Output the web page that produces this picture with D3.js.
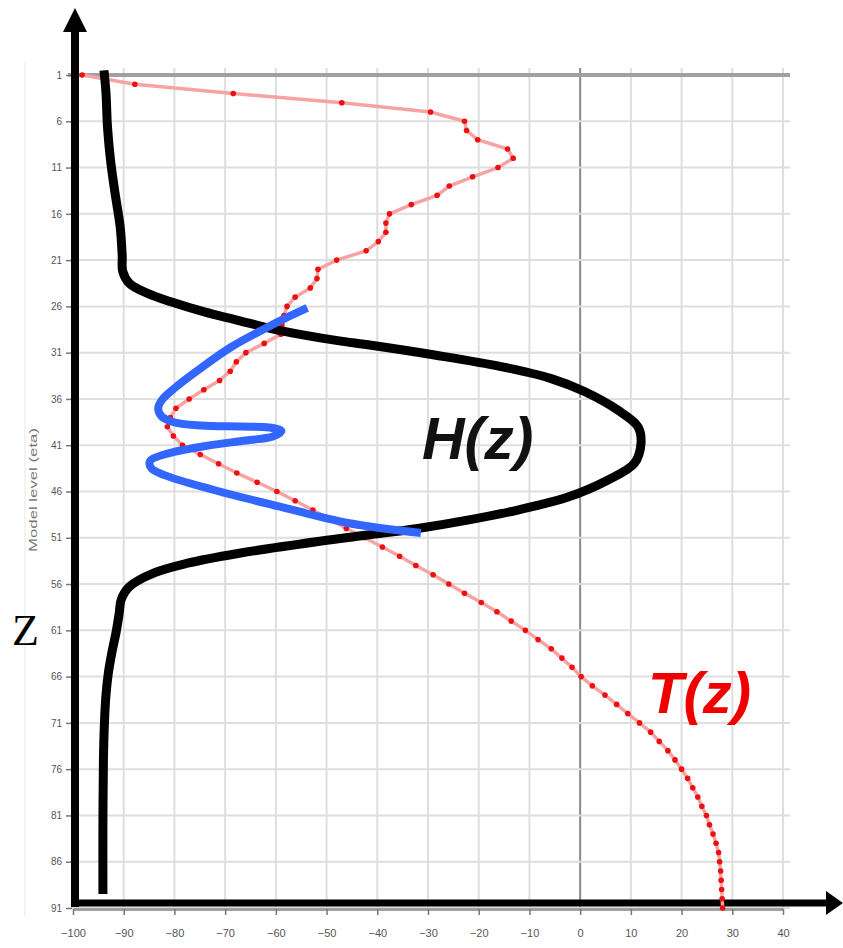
<!DOCTYPE html>
<html>
<head>
<meta charset="utf-8">
<script src="https://cdn.jsdelivr.net/npm/d3@7"></script>
<style>
  html, body { margin: 0; padding: 0; background: #ffffff; }
  svg { display: block; }
</style>
</head>
<body>
<script>
// ---------------- data ----------------
const xTicks = [-100, -90, -80, -70, -60, -50, -40, -30, -20, -10, 0, 10, 20, 30, 40];
const levelTicks = [1, 6, 11, 16, 21, 26, 31, 36, 41, 46, 51, 56, 61, 66, 71, 76, 81, 86, 91];

// T(z): temperature at each model level 1..91
const tLevels = d3.range(1, 92);
const tValues = [
  -98.2, -87.8, -68.4, -47.0, -29.5, -22.8, -22.4, -20.2, -14.3, -13.2,
  -16.2, -21.2, -25.8, -28.2, -33.3, -37.6, -38.3, -38.3, -39.8, -42.2,
  -48.0, -51.7, -51.9, -53.2, -56.2, -57.8, -58.4, -58.8, -59.0, -62.3,
  -65.9, -67.8, -69.0, -71.1, -74.2, -77.1, -79.7, -80.8, -81.4, -80.2,
  -78.4, -74.9, -71.3, -67.7, -63.7, -59.8, -56.2, -52.7, -49.3, -46.1,
  -42.5, -39.0, -35.6, -32.4, -29.0, -25.9, -22.8, -19.5, -16.4, -13.6,
  -10.8, -8.3, -5.7, -3.6, -1.6, 0.2, 2.4, 4.9, 7.2, 9.4,
  11.7, 13.9, 15.6, 17.3, 18.7, 20.0, 21.2, 22.2, 23.2, 24.0,
  24.9, 25.5, 26.2, 26.8, 27.3, 27.5, 27.7, 27.8, 27.9, 28.0, 28.1
];

// H(z): black profile
const hLevels = [0.5, 2.9, 6.6, 10.2, 13.8, 17.4, 20.5, 22.2, 23.5, 24.6, 25.5, 26.6, 27.5, 28.4, 29.1, 29.7, 30.2, 31.25, 32.5, 33.8, 35.2, 37.2, 39.0, 40.8, 42.95, 44.75, 46.6, 48.0, 49.1, 50.0, 50.7, 51.4, 52.7, 53.75, 54.8, 56.3, 57.7, 59.2, 61.2, 63.3, 65.5, 68.0, 71.0, 75.0, 82.0, 89.5];
const hValues = [-93.9, -93.5, -93.2, -92.6, -91.7, -90.7, -90.3, -90.2, -88.9, -85.3, -80.7, -74.1, -67.5, -60.9, -54.4, -47.8, -41.2, -28.7, -15.6, -5.7, 0.85, 7.4, 11.4, 12.0, 10.7, 5.5, -2.4, -12.3, -22.2, -32.0, -41.9, -51.7, -67.5, -77.4, -84.0, -88.9, -90.5, -90.9, -91.5, -92.3, -93.0, -93.5, -93.8, -94.0, -94.1, -94.1];

// blue zigzag
const bLevels = [26.17, 27.25, 28.44, 30.39, 32.87, 34.71, 36.0, 36.98, 37.84, 38.49, 38.87, 38.98, 39.08, 39.46, 40.06, 40.49, 41.08, 41.95, 42.70, 43.46, 44.2, 45.84, 47.67, 49.4, 50.48];
const bValues = [-53.8, -58.0, -62.3, -68.8, -75.3, -79.7, -82.3, -83.2, -82.6, -80.3, -74.8, -66.9, -61.3, -58.9, -60.6, -65.9, -73.8, -81.7, -84.8, -84.6, -82.1, -72.2, -59.0, -45.8, -31.4];

const tLabel = "T(z)";
const hLabel = "H(z)";
const zLabel = "Z";
const yTitle = "Model level (eta)";
const panelLabel = "(b)";

// ---------------- drawing ----------------
const W = 843, H = 948;
const svg = d3.select("body").append("svg").attr("width", W).attr("height", H);

const x = d3.scaleLinear().domain([-100, 40]).range([73, 783]);
const y = d3.scaleLinear().domain([1, 91]).range([75, 908]);

// faint outer border of original chart
svg.append("line").attr("x1", 25).attr("x2", 25).attr("y1", 62).attr("y2", 916)
  .attr("stroke", "#efefef").attr("stroke-width", 1.5);

// grid
const grid = svg.append("g");
grid.selectAll("line.v").data(xTicks).join("line")
  .attr("x1", d => x(d)).attr("x2", d => x(d))
  .attr("y1", y(1) - 7).attr("y2", y(91))
  .attr("stroke", d => d === 0 ? "#8a8a8a" : "#dedede")
  .attr("stroke-width", 2);
grid.selectAll("line.h").data(levelTicks).join("line")
  .attr("x1", 70).attr("x2", 790)
  .attr("y1", d => y(d)).attr("y2", d => y(d))
  .attr("stroke", "#dedede").attr("stroke-width", 2);

// top (level 1) darker line
svg.append("line").attr("x1", 68).attr("x2", 790)
  .attr("y1", y(1)).attr("y2", y(1))
  .attr("stroke", "#a0a0a0").attr("stroke-width", 4);

// axes
const yAxis = svg.append("g").attr("transform", "translate(72,0)")
  .call(d3.axisLeft(y).tickValues(levelTicks).tickSize(6).tickSizeOuter(0).tickPadding(4));
yAxis.select(".domain").remove();
yAxis.selectAll(".tick line").attr("stroke", "#777").attr("stroke-width", 1.5);
yAxis.selectAll("text").attr("fill", "#555").style("font-family", "'Liberation Sans', Arial, sans-serif").style("font-size", "10px");

const xAxis = svg.append("g").attr("transform", `translate(0,${y(91) + 1})`)
  .call(d3.axisBottom(x).tickValues(xTicks).tickSize(6).tickSizeOuter(0).tickPadding(14));
xAxis.select(".domain").attr("stroke", "#a0a0a0").attr("stroke-width", 3);
xAxis.selectAll(".tick line").attr("stroke", "#777").attr("stroke-width", 1.5);
xAxis.selectAll("text").attr("fill", "#555").style("font-family", "'Liberation Sans', Arial, sans-serif").style("font-size", "11px");

// y title
svg.append("text")
  .attr("transform", "translate(37,490) rotate(-90)")
  .attr("text-anchor", "middle")
  .attr("fill", "#777")
  .attr("textLength", 124)
  .attr("lengthAdjust", "spacingAndGlyphs")
  .style("font-family", "'Liberation Sans', Arial, sans-serif")
  .style("font-size", "11px")
  .text(yTitle);

// black arrow axes
const ax = svg.append("g");
ax.append("line").attr("x1", 75).attr("x2", 75).attr("y1", 907).attr("y2", 28)
  .attr("stroke", "#000").attr("stroke-width", 8);
ax.append("path").attr("d", "M63,32 L75,8 L87,32 Z").attr("fill", "#000");
ax.append("line").attr("x1", 71).attr("x2", 829).attr("y1", 903).attr("y2", 903)
  .attr("stroke", "#000").attr("stroke-width", 7);
ax.append("path").attr("d", "M826,891 L843,903 L826,915 Z").attr("fill", "#000");

// T(z) red line with points
const lineT = d3.line().x(d => x(d[1])).y(d => y(d[0]));
const tData = tLevels.map((l, i) => [l, tValues[i]]);
svg.append("path").datum(tData)
  .attr("d", lineT)
  .attr("fill", "none")
  .attr("stroke", "#f7a3a3")
  .attr("stroke-width", 3.5);
svg.append("g").selectAll("circle").data(tData).join("circle")
  .attr("cx", d => x(d[1])).attr("cy", d => y(d[0]))
  .attr("r", 2.8).attr("fill", "#ec1010");

// H(z) black thick curve
const hData = hLevels.map((l, i) => [l, hValues[i]]);
svg.append("path").datum(hData)
  .attr("d", d3.line().x(d => x(d[1])).y(d => y(d[0])).curve(d3.curveCatmullRom.alpha(0.5)))
  .attr("fill", "none").attr("stroke", "#000").attr("stroke-width", 9)
  .attr("stroke-linejoin", "round");

// blue zigzag
const bData = bLevels.map((l, i) => [l, bValues[i]]);
svg.append("path").datum(bData)
  .attr("d", d3.line().x(d => x(d[1])).y(d => y(d[0])).curve(d3.curveCatmullRom.alpha(0.5)))
  .attr("fill", "none").attr("stroke", "#3366ff").attr("stroke-width", 8)
  .attr("stroke-linejoin", "round");

// labels
svg.append("text").attr("x", 422).attr("y", 459)
  .style("font-family", "'Liberation Sans', Arial, sans-serif")
  .style("font-weight", "bold").style("font-style", "italic")
  .style("font-size", "59px").attr("fill", "#111")
  .text(hLabel);
svg.append("text").attr("x", 648).attr("y", 713)
  .style("font-family", "'Liberation Sans', Arial, sans-serif")
  .style("font-weight", "bold").style("font-style", "italic")
  .style("font-size", "58px").attr("fill", "#ee0000")
  .text(tLabel);
svg.append("text").attr("x", 12).attr("y", 645)
  .style("font-family", "'Liberation Serif', 'Times New Roman', serif")
  .style("font-size", "44px").attr("fill", "#000")
  .text(zLabel);
svg.append("text").attr("x", 230).attr("y", -13)
  .style("font-family", "'Liberation Sans', Arial, sans-serif")
  .style("font-weight", "bold")
  .style("font-size", "56px").attr("fill", "#000")
  .text(panelLabel);
</script>
</body>
</html>
